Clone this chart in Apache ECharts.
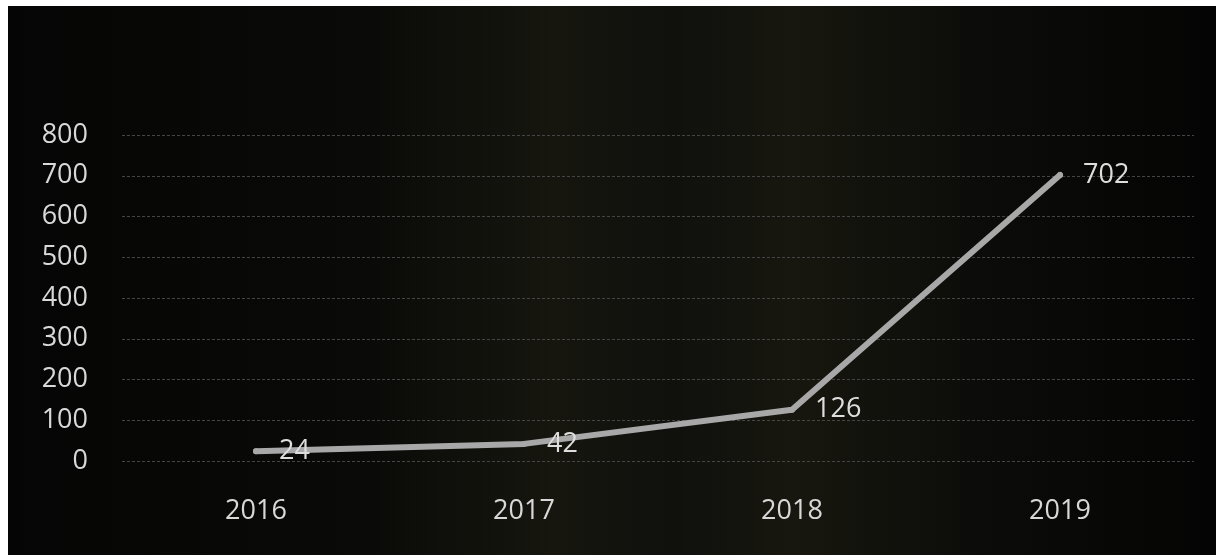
<!DOCTYPE html>
<html>
<head>
<meta charset="utf-8">
<script src="https://cdn.jsdelivr.net/npm/echarts@6/dist/echarts.min.js"></script>
<style>
html,body{margin:0;padding:0;background:#fff;width:1223px;height:555px;overflow:hidden;}
#c{position:absolute;left:8px;top:6px;width:1208px;height:549px;}
</style>
</head>
<body>
<div id="c"></div>
<script>
var categories = ['2016', '2017', '2018', '2019'];
var values = [24, 42, 126, 702];
var yTicks = [0, 100, 200, 300, 400, 500, 600, 700, 800];

var chart = echarts.init(document.getElementById('c'));
chart.setOption({
  backgroundColor: {
    type: 'linear', x: 0, y: 0, x2: 1, y2: 0,
    colorStops: [
      {offset: 0, color: '#050505'},
      {offset: 0.3, color: '#0a0a08'},
      {offset: 0.45, color: '#16160f'},
      {offset: 0.55, color: '#10100d'},
      {offset: 0.65, color: '#17170f'},
      {offset: 0.8, color: '#0c0c0a'},
      {offset: 1, color: '#040404'}
    ]
  },
  animation: false,
  textStyle: {fontFamily: 'Open Sans'},
  grid: {left: 114, right: 22, top: 129, bottom: 94},
  xAxis: {
    type: 'category',
    data: categories,
    boundaryGap: true,
    axisLine: {show: false},
    axisTick: {show: false},
    axisLabel: {color: '#d8d8d8', fontSize: 27, margin: 37}
  },
  yAxis: {
    type: 'value',
    min: yTicks[0],
    max: yTicks[yTicks.length - 1],
    interval: 100,
    axisLine: {show: false},
    axisTick: {show: false},
    axisLabel: {color: '#d8d8d8', fontSize: 27, margin: 34},
    splitLine: {lineStyle: {color: '#454545', type: [3, 2], width: 1}}
  },
  series: [{
    type: 'line',
    data: values,
    symbol: 'circle',
    symbolSize: 6,
    showSymbol: true,
    itemStyle: {color: '#a8a8a8'},
    lineStyle: {color: '#a8a8a8', width: 6, cap: 'round', join: 'round'},
    label: {
      show: true,
      position: 'right',
      distance: 20,
      color: '#dedede',
      fontSize: 27
    }
  }]
});
</script>
</body>
</html>
